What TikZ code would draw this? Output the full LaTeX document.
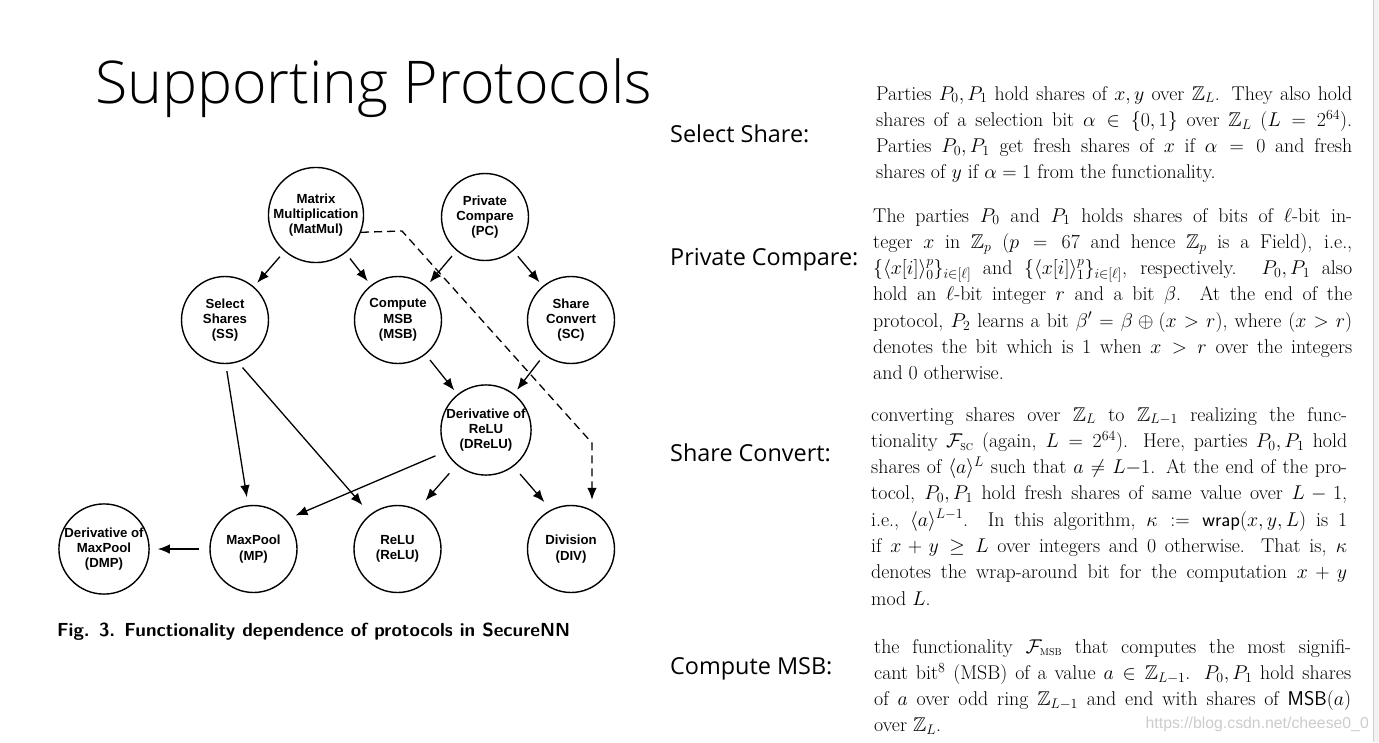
\RequirePackage{fix-cm}
\documentclass[tikz,border=0pt]{standalone}
\usepackage{amssymb}
\usepackage{fontspec}
\usetikzlibrary{arrows.meta,positioning}
\newfontfamily\slidefont{Open Sans}
\IfFontExistsTF{Open Sans Light}
  {\newfontfamily\titlefont{Open Sans Light}}
  {\IfFontExistsTF{OpenSans-Light.otf}
    {\newfontfamily\titlefont{OpenSans-Light.otf}}
    {\newfontfamily\titlefont{Open Sans}}}
\newfontfamily\figfont{Liberation Sans}

\begin{document}
\begin{tikzpicture}
[x=1pt, y=-1pt, node distance=173pt, >={Latex[length=12pt,width=9.5pt]}]
\tikzstyle{proto}=[circle, draw, line width=1.4pt, minimum size=87pt, inner sep=0pt, align=center, font=\figfont\bfseries\fontsize{13.2}{15.3}\selectfont]
\tikzstyle{dep}=[->, line width=1.3pt, shorten <=7pt, shorten >=5pt]
\tikzstyle{topic}=[anchor=base west, inner sep=0pt, font=\slidefont\fontsize{23.4}{28}\selectfont]
\tikzstyle{para}=[anchor=base west, inner sep=0pt, align=justify, font=\fontsize{19.9}{26.3}\selectfont]

\useasboundingbox (0,0) rectangle (1379,742);
\fill[white] (0,0) rectangle (1379,742);
\fill[black!5] (1373,0) rectangle (1379,742);
\draw[black!18] (1373,0) -- (1373,742);

\node[anchor=base west, inner sep=0pt, font=\titlefont\fontsize{64}{70}\selectfont] (title) at (95,103) {\resizebox{557pt}{!}{Supporting Protocols}};

% dependence graph
\node[proto] (MatMul) at (316,215) {Matrix\\Multiplication\\(MatMul)};
\node[proto] (PC)     at (485,217) {Private\\Compare\\(PC)};
\node[proto] (SS)     at (225,320) {Select\\Shares\\(SS)};
\node[proto] (MSB)    [right of=SS]  {Compute\\MSB\\(MSB)};
\node[proto] (SC)     [right of=MSB] {Share\\Convert\\(SC)};
\node[proto] (DReLU)  at (486,430) {Derivative of\\ReLU\\(DReLU)};
\node[proto] (MP)     at (253.5,549) {MaxPool\\(MP)};
\node[proto] (ReLU)   at (397.5,549) {ReLU\\(ReLU)};
\node[proto] (DIV)    at (571,549) {Division\\(DIV)};
\node[proto] (DMP)    at (104,549) {Derivative of\\MaxPool\\(DMP)};

\coordinate (bend1) at (402,231);
\coordinate (bend2) at (592,443);

\draw[dep] (MatMul) -- (SS);
\draw[dep] (MatMul) -- (MSB);
\draw[dep] (PC) -- (MSB);
\draw[dep] (PC) -- (SC);
\draw[dep] (MSB) -- (DReLU);
\draw[dep] (SC) -- (DReLU);
\draw[dep, shorten >=8pt] (SS.-89) -- (MP.97);
\draw[dep, shorten >=12pt] (SS.-73) -- (ReLU.128);
\draw[dep, shorten <=11pt, shorten >=10pt] (DReLU.208) -- (MP.42);
\draw[dep, shorten <=11pt, shorten >=12pt] (DReLU.-130) -- (ReLU.63);
\draw[dep, shorten <=10pt, shorten >=10pt] (DReLU.-53) -- (DIV.117);
\draw[dep, shorten <=10pt, shorten >=8pt] (MP) -- (DMP);
\draw[dep, dash pattern=on 8pt off 5pt, shorten <=0pt] (MatMul.-21.5) -- (bend1) -- (bend2) -- (bend2 |- DIV.north);

\node[anchor=base west, inner sep=0pt, font=\sffamily\bfseries\fontsize{18.9}{22}\selectfont] (caption) at (57,636) {Fig. 3. Functionality dependence of protocols in SecureNN};

% protocol descriptions
\node[topic] (tSS)  at (670,142) {Select Share:};
\node[topic] (tPC)  at (670,265) {Private Compare:};
\node[topic] (tSC)  at (670,461) {Share Convert:};
\node[topic] (tMSB) at (670,674) {Compute MSB:};

\node[para, text width=476pt] (dSS) at (876,100) {Parties $P_0,P_1$ hold shares of $x,y$ over $\mathbb{Z}_L$. They also hold\linebreak
shares of a selection bit $\alpha\in\{0,1\}$ over $\mathbb{Z}_L$ ($L=2^{64}$).\linebreak
Parties $P_0,P_1$ get fresh shares of $x$ if $\alpha=0$ and fresh\linebreak
shares of $y$ if $\alpha=1$ from the functionality.};

\node[para, text width=479pt] (dPC) at (873,222) {The parties $P_0$ and $P_1$ holds shares of bits of $\ell$-bit in-\linebreak
teger $x$ in $\mathbb{Z}_p$ ($p=67$ and hence $\mathbb{Z}_p$ is a Field), i.e.,\linebreak
$\{\langle x[i]\rangle^p_0\}_{i\in[\ell]}$ and $\{\langle x[i]\rangle^p_1\}_{i\in[\ell]}$, respectively. $P_0,P_1$ also\linebreak
hold an $\ell$-bit integer $r$ and a bit $\beta$. At the end of the\linebreak
protocol, $P_2$ learns a bit $\beta'=\beta\oplus(x>r)$, where $(x>r)$\linebreak
denotes the bit which is 1 when $x>r$ over the integers\linebreak
and 0 otherwise.};

\node[para, text width=476pt] (dSC) at (871,421) {converting shares over $\mathbb{Z}_L$ to $\mathbb{Z}_{L-1}$ realizing the func-\linebreak
tionality $\mathcal{F}_{\scriptscriptstyle\mathrm{SC}}$ (again, $L=2^{64}$). Here, parties $P_0,P_1$ hold\linebreak
shares of $\langle a\rangle^L$ such that $a\neq L{-}1$. At the end of the pro-\linebreak
tocol, $P_0,P_1$ hold fresh shares of same value over $L-1$,\linebreak
i.e., $\langle a\rangle^{L-1}$. In this algorithm, $\kappa:=\mathsf{wrap}(x,y,L)$ is 1\linebreak
if $x+y\geq L$ over integers and 0 otherwise. That is, $\kappa$\linebreak
denotes the wrap-around bit for the computation $x+y$\linebreak
mod $L$.};

\node[para, text width=477pt] (dMSB) at (874,653) {the functionality $\mathcal{F}_{\scriptscriptstyle\mathrm{MSB}}$ that computes the most signifi-\linebreak
cant bit$^8$ (MSB) of a value $a\in\mathbb{Z}_{L-1}$. $P_0,P_1$ hold shares\linebreak
of $a$ over odd ring $\mathbb{Z}_{L-1}$ and end with shares of $\mathsf{MSB}(a)$\linebreak
over $\mathbb{Z}_L$.};

\node[anchor=base east, inner sep=0pt, text=black!20, font=\figfont\fontsize{15.8}{18}\selectfont] (mark) at (1369,728) {https://blog.csdn.net/cheese0\_0};
\end{tikzpicture}
\end{document}
